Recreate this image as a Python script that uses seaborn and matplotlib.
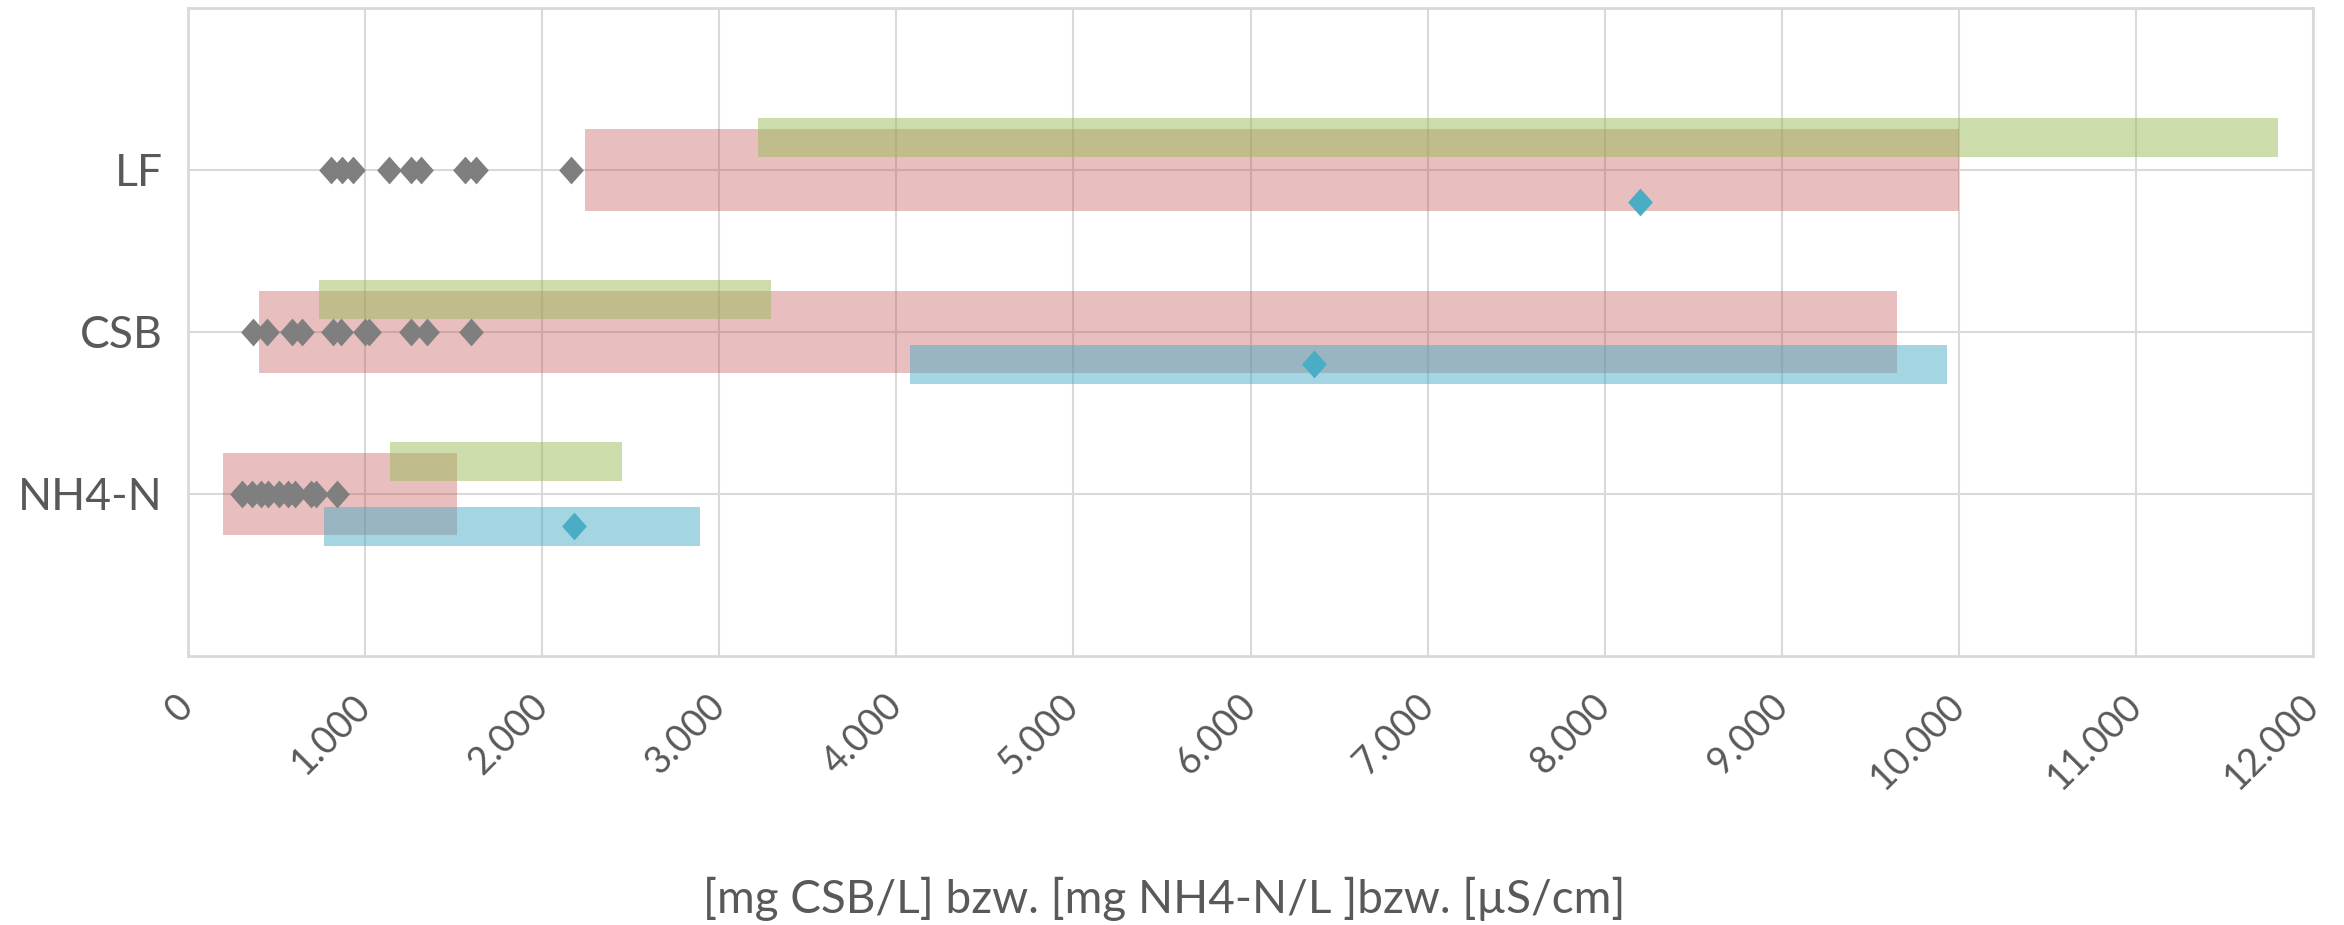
import numpy as np
import pandas as pd
import matplotlib
matplotlib.use("Agg")
import matplotlib.pyplot as plt
import seaborn as sns
from matplotlib.ticker import FixedLocator, FuncFormatter

# ---- data -------------------------------------------------------------
categories = ["NH4-N", "CSB", "LF"]          # bottom to top
cat_pos = [1, 2, 3]

# value ranges per parameter (min, max)
red_min = [200, 400, 2240]
red_max = [1520, 9650, 10000]
green_min = [1140, 740, 3220]
green_max = [2450, 3290, 11800]
blue_min = [770, 4080, np.nan]
blue_max = [2890, 9930, np.nan]

# mean values (blue diamonds)
blue_mean = [2180, 6360, 8200]

# individual measurements (grey diamonds)
meas_nh4 = [308, 365, 416, 453, 517, 567, 605, 693, 723, 844]
meas_csb = [370, 448, 587, 645, 818, 863, 1000, 1025, 1259, 1352, 1598]
meas_lf = [806, 869, 932, 1138, 1259, 1317, 1566, 1626, 2164]

x_ticks = list(range(0, 13000, 1000))
x_label = "[mg CSB/L] bzw. [mg NH4-N/L ]bzw. [µS/cm]"

# ---- styling ----------------------------------------------------------
sns.set_theme(style="white")
plt.rcParams["font.family"] = ["Lato", "DejaVu Sans"]

grid_col = "#D9D9D9"
text_col = "#595959"
red = "#C0504D"
green = "#9BBB59"
blue = "#4BACC6"
grey = "#7F7F7F"

fig = plt.figure(figsize=(23.44, 9.25), dpi=100)
ax = fig.add_axes([0.0801, 0.2908, 0.9068, 0.7006])

ax.set_xlim(0, 12000)
ax.set_ylim(0, 4)
ax.set_axisbelow(True)

# range bars
ax.barh(cat_pos, np.subtract(red_max, red_min), left=red_min, height=0.51,
        color=red, alpha=0.36, linewidth=0, zorder=2)
ax.barh([p + 0.2 for p in cat_pos], np.subtract(green_max, green_min),
        left=green_min, height=0.24, color=green, alpha=0.5, linewidth=0, zorder=3)
ax.barh([p - 0.2 for p in cat_pos], np.subtract(blue_max, blue_min),
        left=blue_min, height=0.245, color=blue, alpha=0.5, linewidth=0, zorder=4)

diamond = [(0, 1), (0.89, 0), (0, -1), (-0.89, 0), (0, 1)]

pts = pd.DataFrame({
    "value": meas_nh4 + meas_csb + meas_lf,
    "pos": [1] * len(meas_nh4) + [2] * len(meas_csb) + [3] * len(meas_lf),
})
sns.scatterplot(data=pts, x="value", y="pos", ax=ax, marker=diamond, s=20 ** 2,
                color=grey, linewidth=0, zorder=5)

means = pd.DataFrame({"value": blue_mean, "pos": [p - 0.2 for p in cat_pos]})
sns.scatterplot(data=means, x="value", y="pos", ax=ax, marker=diamond, s=20 ** 2,
                color=blue, linewidth=0, zorder=6)

# axes, grid, ticks
ax.xaxis.set_major_locator(FixedLocator(x_ticks))
ax.xaxis.set_major_formatter(FuncFormatter(lambda v, _: f"{int(v):,}".replace(",", ".")))
ax.set_yticks(cat_pos)
ax.set_yticklabels(categories)
ax.grid(True, color=grid_col, linewidth=1.5)
for s in ax.spines.values():
    s.set_visible(True)
    s.set_color(grid_col)
    s.set_linewidth(2)

ax.tick_params(axis="both", length=0, colors=text_col)
ax.tick_params(axis="y", labelsize=32, pad=18)
ax.tick_params(axis="x", labelsize=27, pad=32)
for lab in ax.get_xticklabels():
    lab.set_rotation(45)
    lab.set_ha("right")
    lab.set_va("center")
    lab.set_rotation_mode("anchor")

ax.set_xlabel("")
ax.set_ylabel("")
fig.text(1164 / 2344, 1 - 899 / 925, x_label, ha="center", va="center",
         fontsize=33, color=text_col)

fig.savefig("out.png", dpi=100)
